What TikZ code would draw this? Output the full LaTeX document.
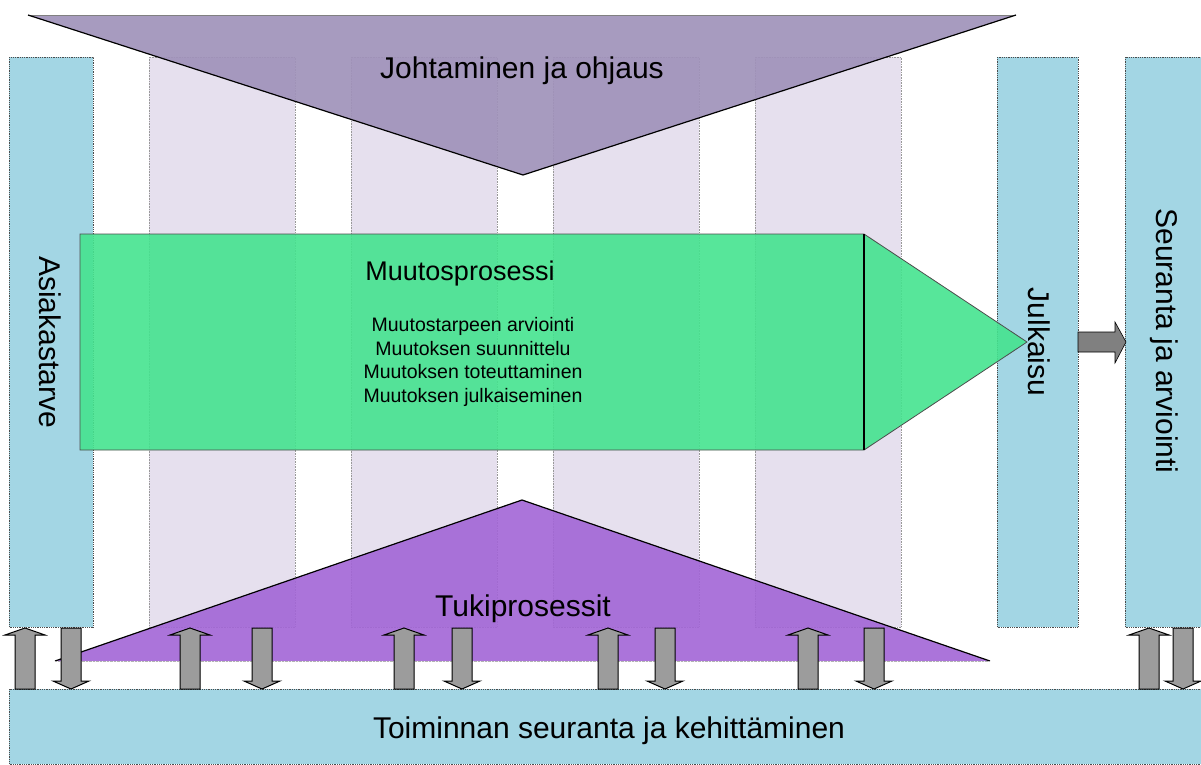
\documentclass[tikz,border=0pt]{standalone}
\usepackage{fontspec}
\setmainfont{Liberation Sans}
\definecolor{bluecol}{HTML}{A3D6E4}
\definecolor{lavcol}{HTML}{E6E0EE}
\definecolor{toptri}{HTML}{A092BA}
\definecolor{bottri}{HTML}{A265D6}
\definecolor{greenarr}{HTML}{45E38F}
\definecolor{arrgray}{HTML}{9C9C9C}
\tikzset{
  bluebox/.style={fill=bluecol, draw=black!70, line width=0.8pt, densely dotted},
  lavbox/.style={fill=lavcol, draw=gray!80, line width=0.6pt, densely dotted},
  bigtxt/.style={font=\fontsize{30}{36}\selectfont, inner sep=0pt},
  midtxt/.style={font=\fontsize{27}{32}\selectfont, inner sep=0pt},
  smalltxt/.style={font=\fontsize{19.5}{23.5}\selectfont, inner sep=0pt, align=center},
  blockarr/.style={fill=arrgray, draw=black, line width=1pt},
  uparrow/.pic={\draw[blockarr] (-10,61) -- (-10,7) -- (-20,7) -- (0,0) -- (20,7) -- (10,7) -- (10,61) -- cycle;},
  downarrow/.pic={\draw[blockarr] (-10,0) -- (-10,53) -- (-18,53) -- (0,61) -- (18,53) -- (10,53) -- (10,0) -- cycle;}
}
\begin{document}
\begin{tikzpicture}[x=1pt,y=-1pt]
\useasboundingbox (0,0) rectangle (1201,764);
% lavender columns
\foreach \xa in {149,351,553,755} {
  \path[lavbox] (\xa,57) rectangle ++(146,570);
}
% top triangle
\fill[toptri, fill opacity=0.92] (28,15) -- (1016,15) -- (523,175) -- cycle;
\draw[gray, line width=1pt] (28,15) -- (1016,15);
\draw[black, line width=1.2pt] (28,15) -- (523,175) -- (1016,15);
% bottom triangle
\fill[bottri, fill opacity=0.9] (522,500) -- (990,661) -- (55,661) -- cycle;
\draw[black, line width=1.2pt] (55,661) -- (522,500) -- (990,661);
\draw[gray!60, densely dotted] (55,661) -- (990,661);
% blue columns
\path[bluebox] (9,57) rectangle (93,627);
\path[bluebox] (997,57) rectangle (1078,627);
\path[bluebox] (1125,57) rectangle (1201,627);
% green arrow
\path[fill=greenarr, fill opacity=0.9, draw=black!70, line width=0.8pt]
  (80,234) -- (864,234) -- (1027,342) -- (864,450) -- (80,450) -- cycle;
\draw[black, line width=1.2pt] (864,234) -- (864,450);
% small horizontal arrow
\draw[fill=gray, draw=black, line width=0.6pt]
  (1078,332) -- (1115,332) -- (1115,322) -- (1126,342) -- (1115,363) -- (1115,352) -- (1078,352) -- cycle;
% bottom bar
\path[bluebox] (9,689) rectangle (1201,764);
% vertical block arrows
\foreach \cx in {25,190,404,608,808,1149} { \pic at (\cx,628) {uparrow}; }
\foreach \cx in {71,262,462,665,874,1183} { \pic at (\cx,628) {downarrow}; }
% texts
\node[bigtxt, anchor=base] (jo) at (522,78) {Johtaminen ja ohjaus};
\node[midtxt, anchor=base] (mp) at (460,280) {Muutosprosessi};
\node[smalltxt, anchor=base] (l1) at (473,331) {Muutostarpeen arviointi};
\node[smalltxt, anchor=base] (l2) at (473,355) {Muutoksen suunnittelu};
\node[smalltxt, anchor=base] (l3) at (473,378) {Muutoksen toteuttaminen};
\node[smalltxt, anchor=base] (l4) at (473,402) {Muutoksen julkaiseminen};
\node[bigtxt, anchor=base] (tp) at (523,616) {Tukiprosessit};
\node[bigtxt, anchor=base] (ts) at (609,738) {Toiminnan seuranta ja kehittäminen};
\node[bigtxt, rotate=-90] (as) at (50,342) {Asiakastarve};
\node[bigtxt, rotate=-90] (ju) at (1039,342) {Julkaisu};
\node[bigtxt, rotate=-90] (se) at (1164,341) {Seuranta ja arviointi};
\end{tikzpicture}
\end{document}
